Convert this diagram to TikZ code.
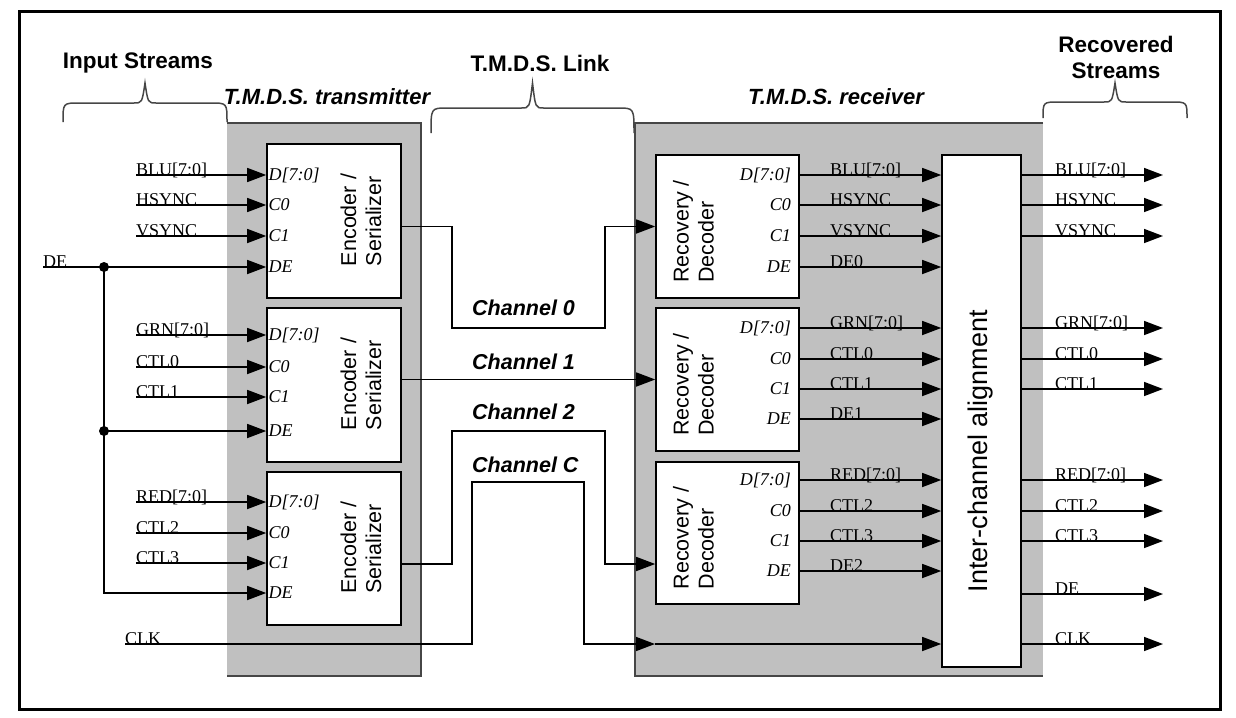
\documentclass[tikz,border=0pt]{standalone}
\usepackage{fontspec}
\setmainfont{Liberation Serif}
\setsansfont{Liberation Sans}
\usetikzlibrary{arrows.meta, positioning, calc}
\definecolor{panelgray}{RGB}{192,192,192}
\definecolor{edgegray}{RGB}{70,70,70}

\begin{document}
\begin{tikzpicture}[
        x=1pt, y=-1pt,
        panel/.style={rectangle, fill=panelgray, inner sep=0pt},
        blk/.style={rectangle, draw, fill=white, line width=1.6pt, inner sep=0pt},
        sig/.style={line width=1.5pt},
        arrow/.style={sig, -{Triangle[length=19pt, width=14pt]}},
        siglbl/.style={font=\fontsize{18}{20}\selectfont, inner sep=0pt, anchor=base west},
        pinlbl/.style={font=\fontsize{18}{20}\selectfont\itshape, inner sep=0pt},
        blktext/.style={font=\sffamily\fontsize{21.5}{25}\selectfont, rotate=90, align=left, inner sep=0pt},
        title/.style={font=\sffamily\bfseries\fontsize{22.5}{26}\selectfont, align=center, inner sep=0pt},
        unit/.style={font=\sffamily\bfseries\itshape\fontsize{22}{26}\selectfont, inner sep=0pt},
        chlbl/.style={font=\sffamily\bfseries\itshape\fontsize{21.5}{25}\selectfont, anchor=west, inner sep=0pt},
        brc/.style={line width=1.5pt, draw=edgegray}
    ]

    \useasboundingbox (0,0) rectangle (1236,717);
    \draw[line width=3pt] (19,12) rectangle (1220,709);

    % Transmitter and receiver panels
    \node[panel, minimum width=194pt, minimum height=553pt] (tx) at (324,399.5) {};
    \draw[edgegray, line width=2pt] (tx.north west) -- (tx.north east) -- (tx.south east) -- (tx.south west);
    \node[panel, minimum width=408pt, minimum height=553pt] (rx) at (839,399.5) {};
    \draw[edgegray, line width=2pt] (rx.north east) -- (rx.north west) -- (rx.south west) -- (rx.south east);

    % Titles and braces
    \node[title] (instreams) at (138,63) {Input Streams};
    \node[title] (linkttl) at (540,63) {T.M.D.S. Link};
    \node[title] (recstreams) at (1116,57) {Recovered\\Streams};
    \node[unit] (txttl) at (327,97) {T.M.D.S. transmitter};
    \node[unit] (rxttl) at (836,97) {T.M.D.S. receiver};
    \foreach \xa/\xb/\ye/\yb in {63/227/122/103, 431/634/133/108, 1043/1187/118/102} {
        \draw[brc] (\xa,\ye) .. controls (\xa,\yb) .. (\xa+16,\yb) -- ({(\xa+\xb)/2-11},\yb)
            .. controls ({(\xa+\xb)/2-3},\yb) .. ({(\xa+\xb)/2},83)
            .. controls ({(\xa+\xb)/2+3},\yb) .. ({(\xa+\xb)/2+11},\yb) -- (\xb-16,\yb)
            .. controls (\xb,\yb) .. (\xb,\ye);
    }

    % Encoders
    \node[blk, minimum width=134pt, minimum height=154pt] (enc1) at (334,221) {};
    \node[blk, minimum width=134pt, minimum height=154pt] (enc2) at (334,385) {};
    \node[blk, minimum width=134pt, minimum height=153pt] (enc3) at (334,548.5) {};
    \foreach \i in {1,2,3} {
        \node[blktext] (enc\i txt) at ($(enc\i.center)+(27,-1)$) {Encoder /\\Serializer};
    }

    % Decoders and alignment
    \node[blk, minimum width=143pt, minimum height=143pt] (dec1) at (727.5,226.5) {};
    \node[blk, minimum width=143pt, minimum height=143pt] (dec2) at (727.5,379.5) {};
    \node[blk, minimum width=143pt, minimum height=142pt] (dec3) at (727.5,533) {};
    \foreach \i in {1,2,3} {
        \node[blktext] (dec\i txt) at ($(dec\i.center)+(-34,5)$) {Recovery /\\Decoder};
    }
    \node[blk, minimum width=79pt, minimum height=512pt] (align) at (981.5,411) {};
    \node[blktext, font=\sffamily\fontsize{27}{30}\selectfont] (aligntxt) at ($(align.center)+(-1,40)$) {Inter-channel alignment};

    % Input streams
    \foreach \n/\t/\y/\p/\b in {blu/BLU[7:0]/175/D[7:0]/1, hs/HSYNC/205/C0/1, vs/VSYNC/236/C1/1,
            grn/GRN[7:0]/335/D[7:0]/2, c0/CTL0/367/C0/2, c1/CTL1/397/C1/2,
            red/RED[7:0]/502/D[7:0]/3, c2/CTL2/533/C0/3, c3/CTL3/563/C1/3} {
        \node[pinlbl, anchor=west] (ep-\n) at (268.5,\y) {\p};
        \node[siglbl] (in-\n) at (136,\y) {\t};
        \draw[arrow] (in-\n.base west) -- (enc\b.west |- ep-\n);
    }
    \node[pinlbl, anchor=west] (ep-de1) at (268.5,267) {DE};
    \node[pinlbl, anchor=west] (ep-de2) at (268.5,431) {DE};
    \node[pinlbl, anchor=west] (ep-de3) at (268.5,593) {DE};
    \node[siglbl] (in-de) at (43,267) {DE};
    \coordinate (dot1) at (104,267);
    \coordinate (dot2) at (104,431);
    \draw[arrow] (in-de.base west) -- (enc1.west |- ep-de1);
    \draw[arrow] (dot2) -- (enc2.west |- ep-de2);
    \draw[arrow] (dot1) |- (enc3.west |- ep-de3);
    \fill (dot1) circle (5pt);
    \fill (dot2) circle (5pt);

    % Link channels
    \node[chlbl] (ch0lbl) at (472,308) {Channel 0};
    \node[chlbl] (ch1lbl) at (472,362) {Channel 1};
    \node[chlbl] (ch2lbl) at (472,412) {Channel 2};
    \node[chlbl] (chclbl) at (472,465) {Channel C};
    \coordinate (ch0-a) at (452,328);
    \coordinate (ch0-b) at (605,328);
    \draw[arrow] (enc1.east |- dec1.west) -| (ch0-a) -- (ch0-b) |- (dec1.west);
    \draw[arrow] (enc2.east |- dec2.west) -- (dec2.west);
    \coordinate (ch2-a) at (452,431);
    \coordinate (ch2-b) at (605,431);
    \coordinate (rx-ch2) at ($(dec3.west)+(0,31)$);
    \draw[arrow] (enc3.east |- rx-ch2) -| (ch2-a) -- (ch2-b) |- (rx-ch2);
    \node[siglbl] (in-clk) at (125,644) {CLK};
    \coordinate (chc-a) at (472,482);
    \coordinate (chc-b) at (584,482);
    \coordinate (rx-clk) at (655,644);
    \draw[arrow] (in-clk.base west) -| (chc-a) -- (chc-b) |- (rx-clk);
    \draw[arrow] (rx-clk) -- (align.west |- rx-clk);

    % Decoded streams
    \foreach \n/\t/\y/\p/\b in {blu/BLU[7:0]/175/D[7:0]/1, hs/HSYNC/205/C0/1, vs/VSYNC/236/C1/1, de0/DE0/267/DE/1,
            grn/GRN[7:0]/328/D[7:0]/2, c0/CTL0/359/C0/2, c1/CTL1/389/C1/2, de1/DE1/419/DE/2,
            red/RED[7:0]/480/D[7:0]/3, c2/CTL2/511/C0/3, c3/CTL3/541/C1/3, de2/DE2/571/DE/3} {
        \node[pinlbl, anchor=east] (dp-\n) at (791,\y) {\p};
        \node[siglbl] (rx-\n) at (830,\y) {\t};
        \draw[arrow] (dec\b.east |- dp-\n) -- (align.west |- dp-\n);
    }

    % Recovered streams
    \foreach \n/\t/\y in {blu/BLU[7:0]/175, hs/HSYNC/205, vs/VSYNC/236, grn/GRN[7:0]/328, c0/CTL0/359,
            c1/CTL1/389, red/RED[7:0]/480, c2/CTL2/511, c3/CTL3/541, de/DE/594, clk/CLK/644} {
        \node[siglbl] (out-\n) at (1055,\y) {\t};
        \coordinate (end-\n) at (1163,\y);
        \draw[arrow] (align.east |- end-\n) -- (end-\n);
    }

\end{tikzpicture}
\end{document}
